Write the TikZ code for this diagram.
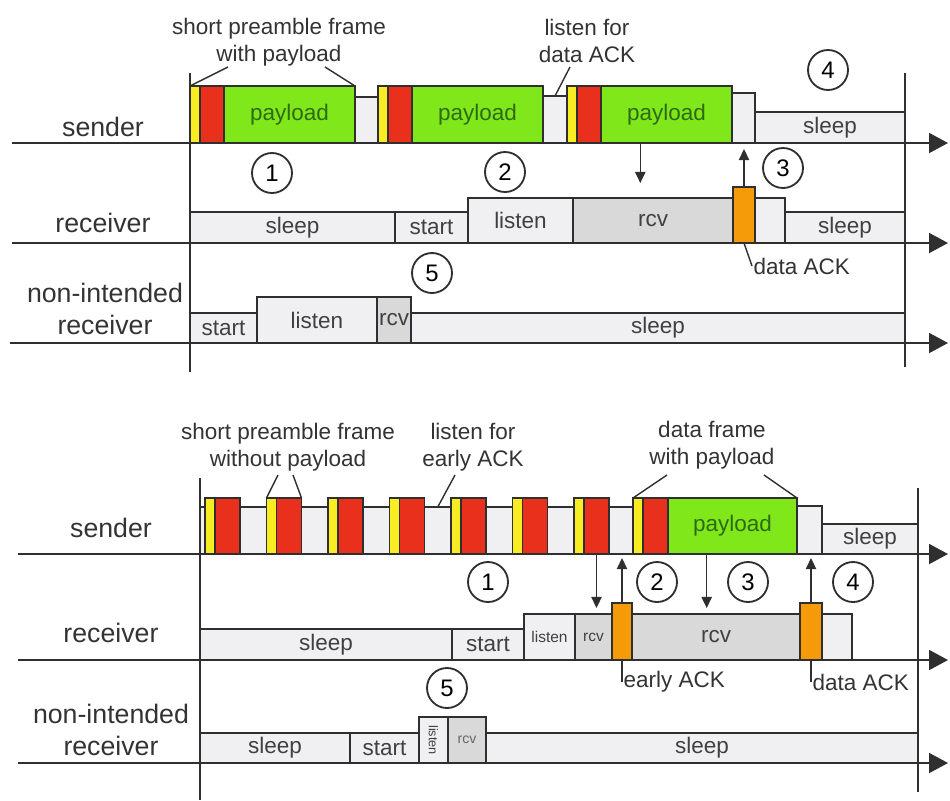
\documentclass[tikz,border=0pt]{standalone}
\usepackage{fontspec}
\usepackage{graphicx}
\setmainfont{Liberation Sans}
\usetikzlibrary{arrows.meta,positioning,calc}
\definecolor{preyellow}{HTML}{F8EC22}
\definecolor{prered}{HTML}{E8301C}
\definecolor{paygreen}{HTML}{80E81A}
\definecolor{ackorange}{HTML}{F59B0A}
\definecolor{idlegray}{HTML}{F0F0F2}
\definecolor{rcvgray}{HTML}{D9D9D9}
\definecolor{darkline}{HTML}{2F2F2F}
\definecolor{paytext}{HTML}{2E6A14}
\newcommand{\pxu}{0.25mm}
\newcommand{\boxfont}{\fontsize{16}{19}\selectfont}
\newcommand{\smallboxfont}{\fontsize{11}{13}\selectfont}
\newcommand{\rowfont}{\fontsize{19}{23}\selectfont}
% name, style, x1, x2, top, bottom, text
\newcommand{\seg}[7]{\node[slot,#2,minimum width={((#4)-(#3))*\pxu},minimum height={((#6)-(#5))*\pxu},anchor=north west] (#1) at (#3,#5) {#7};}

\begin{document}
\begin{tikzpicture}[x=\pxu,y=-\pxu,font=\boxfont,line join=miter]
  \tikzset{slot/.style={draw=darkline,line width=1pt,inner sep=0pt,outer sep=0pt,text=black!75},
    idle/.style={fill=idlegray},
    busy/.style={fill=rcvgray},
    pre/.style={fill=preyellow},
    sync/.style={fill=prered},
    data/.style={fill=paygreen,text=paytext},
    ack/.style={fill=ackorange},
    axis/.style={draw=darkline,line width=1.4pt,-{Triangle[length=4.75mm,width=5mm]}},
    bar/.style={draw=darkline,line width=1.4pt},
    sig/.style={draw=darkline,line width=1pt,-{Triangle[length=2.8mm,width=2.6mm]}},
    lead/.style={draw=darkline,line width=1pt},
    ann/.style={text=black!80,inner sep=1pt,font=\boxfont},
    rowlab/.style={text=black!80,inner sep=0pt,font=\rowfont,align=center},
    num/.style={circle,draw=darkline,line width=1.3pt,minimum size=10mm,inner sep=0pt,font=\fontsize{17}{17}\selectfont}}
  \useasboundingbox (0,0) rectangle (950,800);

  % with payload
  \draw[axis] (12,143) -- (948,143);
  \draw[axis] (12,243) -- (948,243);
  \draw[axis] (10,343) -- (948,343);
  \node[rowlab] (sndA) at (103,127) {sender};
  \node[rowlab] (recA) at (103,223) {receiver};
  \node[rowlab] (nirA) at (105,309) {non-intended\\receiver};

  \seg{gapA1}{idle}{355}{378}{97}{143}{}
  \seg{gapA2}{idle}{543}{567}{96}{143}{}
  \seg{lstA}{idle}{731}{755}{93}{143}{}
  \seg{slpA}{idle}{755}{905}{112}{143}{sleep}
  \foreach \s/\n in {190/1,378/2,567/3}{
    \seg{yelA\n}{pre}{\s}{\s+10}{86}{143}{}
    \seg{redA\n}{sync}{\s+10}{\s+34}{86}{143}{}
    \seg{payA\n}{data}{\s+34}{\s+165}{86}{143}{payload}
  }

  \seg{slpB}{idle}{190}{395}{212}{243}{sleep}
  \seg{strB}{idle}{395}{468}{212}{243}{start}
  \seg{lstB}{idle}{468}{573}{198}{243}{listen}
  \seg{rcvB}{busy}{573}{733}{198}{243}{rcv}
  \seg{ackB}{ack}{733}{755}{187}{243}{}
  \seg{endB}{idle}{755}{785}{198}{243}{}
  \seg{slpB2}{idle}{785}{905}{212}{243}{sleep}

  \seg{strC}{idle}{190}{257}{313}{343}{start}
  \seg{lstC}{idle}{257}{377}{297}{343}{listen}
  \seg{rcvC}{busy}{377}{411}{297}{343}{rcv}
  \seg{slpC}{idle}{411}{905}{313}{343}{sleep}

  \draw[bar] (190,73) -- (190,372);
  \draw[bar] (905,73) -- (905,367);

  \node[num] (numA1) at (272,173) {1};
  \node[num] (numA2) at (505,172) {2};
  \node[num] (numA3) at (783,168) {3};
  \node[num] (numA4) at (828,70) {4};
  \node[num] (numA5) at (432,273) {5};

  \draw[sig,shorten >=3.75mm] ($(payA3.south west)!.3!(payA3.south east)$) coordinate (dnA) -- (dnA |- rcvB.north);
  \draw[sig,shorten >=1.5mm] (ackB.north) -- (ackB.north |- lstA.south);

  \node[ann,anchor=west] (dackB) at (752,266) {data ACK};
  \draw[lead] (ackB.south) -- (dackB.west);

  \node[ann,align=center] (annA1) at (279,42) {short preamble frame\\with payload};
  \coordinate (annA1l) at (228,67);
  \coordinate (annA1r) at (325,67);
  \draw[lead] (yelA1.north west) -- (annA1l);
  \draw[lead] (payA1.north east) -- (annA1r);
  \node[ann,align=center] (annA2) at (587,41) {listen for\\data ACK};
  \coordinate (annA2p) at (570,67);
  \draw[lead] (gapA2.north) -- (annA2p);

  % without payload
  \draw[axis] (18,554) -- (948,554);
  \draw[axis] (18,660) -- (948,660);
  \draw[axis] (18,763) -- (948,763);
  \node[rowlab] (sndD) at (111,528) {sender};
  \node[rowlab] (recD) at (111,633) {receiver};
  \node[rowlab] (nirD) at (111,730) {non-intended\\receiver};

  \seg{gapD}{idle}{200}{633}{507}{554}{}
  \foreach \k [evaluate=\k as \s using 205+61.5*(\k-1)] in {1,...,7}{
    \seg{yelD\k}{pre}{\s}{\s+10}{498}{554}{}
    \seg{redD\k}{sync}{\s+10}{\s+35}{498}{554}{}
  }
  \seg{yelD8}{pre}{633}{643}{498}{554}{}
  \seg{redD8}{sync}{643}{668}{498}{554}{}
  \seg{payD}{data}{668}{797}{498}{554}{payload}
  \seg{lstD}{idle}{797}{822}{506}{554}{}
  \seg{slpD}{idle}{822}{918}{524}{554}{sleep}

  \seg{slpE}{idle}{200}{452}{629}{660}{sleep}
  \seg{strE}{idle}{452}{524}{629}{660}{start}
  \seg{lstE}{idle,font=\smallboxfont}{524}{575}{614}{660}{listen}
  \seg{rcvE1}{busy,font=\smallboxfont}{575}{612}{614}{660}{rcv}
  \seg{ackE1}{ack}{612}{632}{603}{660}{}
  \seg{rcvE2}{busy}{632}{800}{614}{660}{rcv}
  \seg{ackE2}{ack}{800}{822}{603}{660}{}
  \seg{endE}{idle}{822}{852}{614}{660}{}

  \seg{slpF}{idle}{200}{350}{733}{763}{sleep}
  \seg{strF}{idle}{350}{419}{733}{763}{start}
  \seg{lstF}{idle,font=\fontsize{9}{10}\selectfont}{419}{448}{717}{763}{\rotatebox{-90}{listen}}
  \seg{rcvF}{busy,font=\fontsize{10}{12}\selectfont,text=black!60}{448}{486}{717}{763}{rcv}
  \seg{slpF2}{idle}{486}{918}{733}{763}{sleep}

  \draw[bar] (200,478) -- (200,800);
  \draw[bar] (918,488) -- (918,792);

  \node[num] (numD1) at (488,582) {1};
  \node[num] (numD2) at (657,582) {2};
  \node[num] (numD3) at (748,582) {3};
  \node[num] (numD4) at (853,582) {4};
  \node[num] (numD5) at (447,688) {5};

  \draw[sig,shorten >=1.5mm] (redD7.south) -- (redD7.south |- rcvE1.north);
  \draw[sig,shorten >=1mm] (ackE1.north) -- (ackE1.north |- gapD.south);
  \draw[sig,shorten >=1.5mm] ($(payD.south west)!.3!(payD.south east)$) coordinate (dnD) -- (dnD |- rcvE2.north);
  \draw[sig,shorten >=1mm] (ackE2.north) -- (ackE2.north |- lstD.south);

  \node[ann,anchor=west] (earlyE) at (622,682) {early ACK};
  \draw[lead] (ackE1.south) |- (earlyE.west);
  \node[ann,anchor=west] (dackE) at (811,682) {data ACK};
  \draw[lead] (ackE2.south) |- (dackE.west);

  \node[ann,align=center] (annD1) at (288,447) {short preamble frame\\without payload};
  \coordinate (annD1l) at (278,475);
  \coordinate (annD1r) at (293,475);
  \draw[lead] (yelD2.north west) -- (annD1l);
  \draw[lead] (redD2.north east) -- (annD1r);
  \node[ann,align=center] (annD2) at (473,447) {listen for\\early ACK};
  \coordinate (gapD45) at ($(redD4.south east)!.5!(yelD5.south west)$);
  \coordinate (annD2p) at (455,475);
  \draw[lead] (gapD45 |- gapD.north) -- (annD2p);
  \node[ann,align=center] (annD3) at (712,445) {data frame\\with payload};
  \coordinate (annD3l) at (667,475);
  \coordinate (annD3r) at (764,475);
  \draw[lead] (yelD8.north west) -- (annD3l);
  \draw[lead] (payD.north east) -- (annD3r);
\end{tikzpicture}
\end{document}
